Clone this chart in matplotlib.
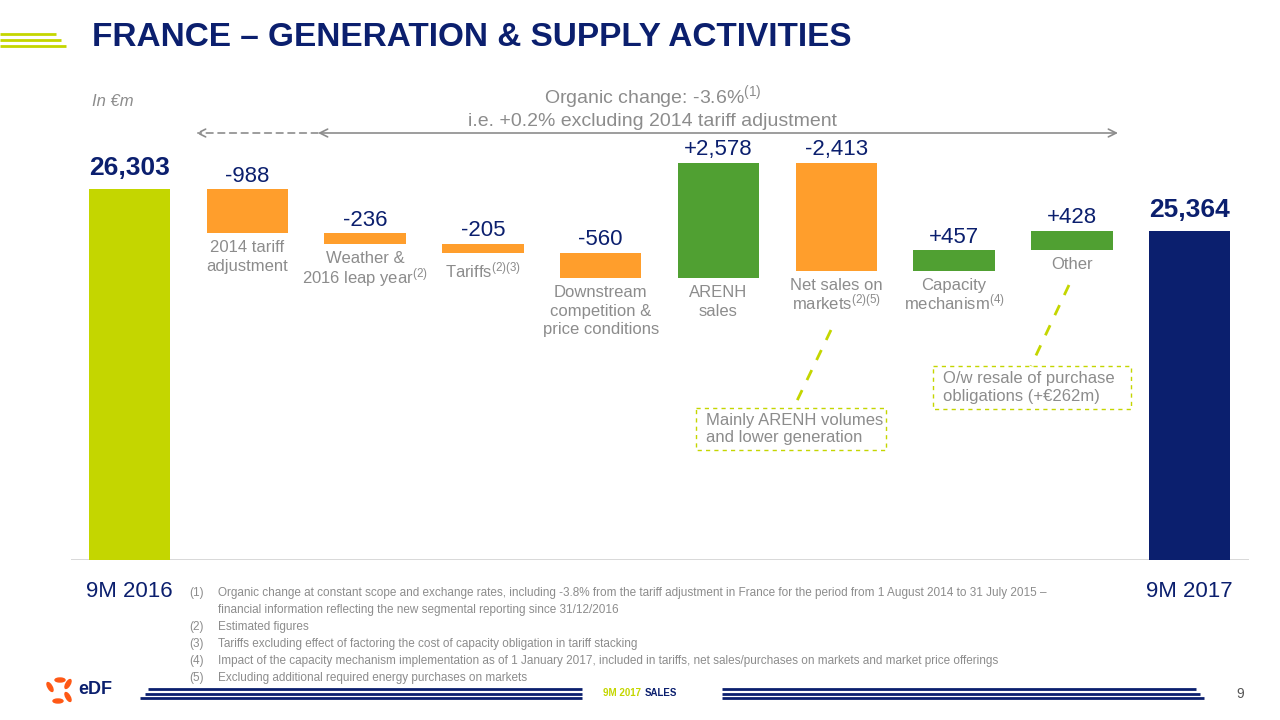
import numpy as np
import matplotlib.pyplot as plt
from matplotlib import font_manager
from matplotlib.patches import Rectangle, Ellipse

# Data (in EUR m)
categories = ['9M 2016', '2014 tariff\nadjustment', 'Weather &\n2016 leap year$^{(2)}$',
              'Tariffs$^{(2)(3)}$', 'Downstream\ncompetition &\nprice conditions',
              'ARENH\nsales', 'Net sales on\nmarkets$^{(2)(5)}$',
              'Capacity\nmechanism$^{(4)}$', 'Other', '9M 2017']
start_value = 26303
changes = [-988, -236, -205, -560, 2578, -2413, 457, 428]
end_value = 25364
value_labels = ['26,303', '-988', '-236', '-205', '-560', '+2,578', '-2,413', '+457', '+428', '25,364']
footnotes = [
    ('(1)', 'Organic change at constant scope and exchange rates, including -3.8% from the tariff adjustment in France for the period from 1 August 2014 to 31 July 2015 \u2013'),
    ('', 'financial information reflecting the new segmental reporting since 31/12/2016'),
    ('(2)', 'Estimated figures'),
    ('(3)', 'Tariffs excluding effect of factoring the cost of capacity obligation in tariff stacking'),
    ('(4)', 'Impact of the capacity mechanism implementation as of 1 January 2017, included in tariffs, net sales/purchases on markets and market price offerings'),
    ('(5)', 'Excluding additional required energy purchases on markets'),
]

NAVY = '#0B1F6E'
LIME = '#C4D600'
ORANGE = '#FF9E2C'
GREEN = '#50A032'
GREY = '#8C8C8C'

installed = {f.name for f in font_manager.fontManager.ttflist}
NARROW = 'Liberation Sans Narrow' if 'Liberation Sans Narrow' in installed else 'Liberation Sans'
plt.rcParams['font.family'] = ['Liberation Sans', 'DejaVu Sans']
plt.rcParams['mathtext.fontset'] = 'custom'
plt.rcParams['mathtext.rm'] = 'Liberation Sans'
plt.rcParams['mathtext.it'] = 'Liberation Sans:italic'

# waterfall geometry
levels = np.concatenate([[start_value], start_value + np.cumsum(changes)])
bottoms = [18000]
heights = [start_value - 18000]
colors = [LIME]
for i, c in enumerate(changes):
    lo = min(levels[i], levels[i + 1])
    bottoms.append(lo)
    heights.append(abs(c))
    colors.append(GREEN if c > 0 else ORANGE)
bottoms.append(18000)
heights.append(end_value - 18000)
colors.append(NAVY)
tops = np.array(bottoms) + np.array(heights)
x = np.arange(len(categories))

fig = plt.figure(figsize=(12.8, 7.2), dpi=100)

# overlay in pixel coordinates for slide decorations
ov = fig.add_axes([0, 0, 1, 1])
ov.set_xlim(0, 1280)
ov.set_ylim(720, 0)
ov.axis('off')

ax = fig.add_axes([70.6 / 1280, 160 / 720, 1178 / 1280, 460 / 720])
ax.set_facecolor('none')
ax.set_xlim(-0.5, 9.5)
ax.set_ylim(18000, 18000 + 460 * 22.4)
ax.axis('off')
ax.axhline(18000, color='#D5D5D5', lw=2, zorder=0)

ax.bar(x, heights, bottom=bottoms, width=0.69, color=colors, zorder=2)

for i in range(len(x)):
    if i in (0, len(x) - 1):
        ax.annotate(value_labels[i], (x[i], tops[i]), xytext=(0, 7), textcoords='offset points',
                    ha='center', va='bottom', fontsize=19, fontweight='bold', color=NAVY)
    else:
        ax.annotate(value_labels[i], (x[i], tops[i]), xytext=(0, 2), textcoords='offset points',
                    ha='center', va='bottom', fontsize=16, color=NAVY)
        ls = 1.0 if '$' in categories[i] else 1.3
        ax.annotate(categories[i], (x[i], bottoms[i]), xytext=(0, -5), textcoords='offset points',
                    ha='center', va='top', fontsize=12, color=GREY, linespacing=ls)

# period labels under the baseline
for i in (0, len(x) - 1):
    ax.annotate(categories[i], (x[i], 18000), xytext=(0, -15), textcoords='offset points',
                ha='center', va='top', fontsize=16, color=NAVY)

# header
for y, x1 in [(34, 56), (40, 61), (46, 66)]:
    ov.plot([0, x1], [y, y], color=LIME, lw=2, solid_capstyle='butt')
ov.text(92, 38, 'FRANCE \u2013 GENERATION & SUPPLY ACTIVITIES', fontsize=24, fontweight='bold',
        color=NAVY, family=NARROW, va='center', ha='left')
ov.text(92, 102, 'In \u20acm', fontsize=12, style='italic', color=GREY, va='center')
ov.text(653, 97, 'Organic change: -3.6%$^{(1)}$', fontsize=14, color=GREY, ha='center', va='center')
ov.text(653, 121, 'i.e. +0.2% excluding 2014 tariff adjustment', fontsize=14, color=GREY,
        ha='center', va='center')

# span arrows
ov.annotate('', xy=(196, 133), xytext=(318, 133),
            arrowprops=dict(arrowstyle='->', color=GREY, lw=1.2, linestyle=(0, (4, 3)),
                            shrinkA=0, shrinkB=0, mutation_scale=14))
ov.annotate('', xy=(318, 133), xytext=(1118, 133),
            arrowprops=dict(arrowstyle='<->', color=GREY, lw=1.2, shrinkA=0, shrinkB=0,
                            mutation_scale=14))

# call-out boxes
ov.plot([831, 794], [330, 407], color=LIME, lw=2, linestyle=(0, (4, 4)))
ov.plot([1069, 1031], [285, 366], color=LIME, lw=2, linestyle=(0, (4, 4)))
for (bx, by, bw, bh, txt) in [(696, 408, 190, 42, 'Mainly ARENH volumes\nand lower generation'),
                              (933, 366, 198, 43, 'O/w resale of purchase\nobligations (+\u20ac262m)')]:
    ov.add_patch(Rectangle((bx, by), bw, bh, fill=False, ec=LIME, lw=1, linestyle=(0, (3, 3))))
    ov.text(bx + 10, by + bh / 2, txt, fontsize=12, color=GREY, va='center', ha='left',
            linespacing=1.2)

# footnotes
ys = [593, 610, 627, 644, 661, 678]
for (num, txt), y in zip(footnotes, ys):
    ov.text(189, y, num, fontsize=8.5, color=GREY, va='center', family=NARROW)
    ov.text(218, y, txt, fontsize=8.5, color=GREY, va='center', family=NARROW)

# footer
for dy, (l, r) in zip([689, 693.5, 698], [(148, 582), (145, 582), (140, 582)]):
    ov.plot([l, r], [dy, dy], color=NAVY, lw=2, solid_capstyle='butt')
for dy, r in zip([689, 693.5, 698], [1196, 1200, 1204]):
    ov.plot([722, r], [dy, dy], color=NAVY, lw=2, solid_capstyle='butt')
ov.text(603, 693, '9M 2017', fontsize=7, fontweight='bold', color=LIME, va='center', family=NARROW)
ov.text(645, 693, 'SALES', fontsize=7, fontweight='bold', color=NAVY, va='center', family=NARROW)
ov.text(1240, 694, '9', fontsize=10, color='#555555', va='center', ha='center')

# EDF logo approximation
for ang, (cx, cy) in zip([90, 30, -30, -90, 150], [(60, 680), (68, 684), (68, 697), (58, 701), (50, 687)]):
    ov.add_patch(Ellipse((cx, cy), 4, 10, angle=ang, color='#FE5815'))
ov.text(78, 690, 'eDF', fontsize=13, fontweight='bold', color=NAVY, va='center')

fig.savefig('out.png', dpi=100)
